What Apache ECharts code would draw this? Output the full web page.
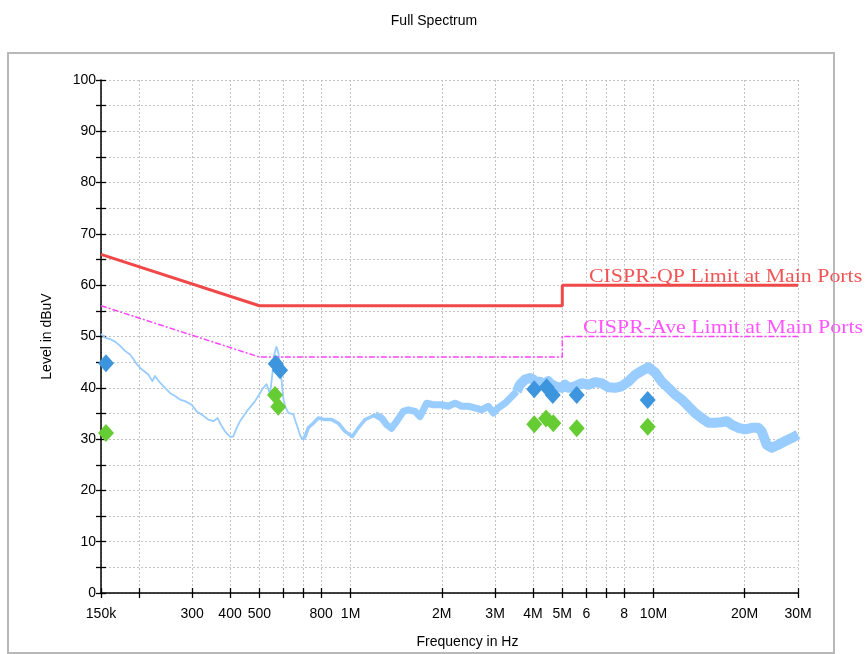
<!DOCTYPE html>
<html><head><meta charset="utf-8">
<script src="https://cdn.jsdelivr.net/npm/echarts@6/dist/echarts.min.js"></script>
<style>html,body{margin:0;padding:0;background:#fff}#c{width:868px;height:654px}</style>
</head><body><div id="c"></div>
<script>
// Spectrum trace (frequency in kHz, level in dBuV)
const traceFreqKHz = [150,154.6,160.6,166.9,173.3,180,187,191.8,196.8,204.4,214.9,221.6,226.1,234.9,244,253.4,263.2,273.4,284,298.9,310.4,322.5,339,352.2,364.1,373.4,384.9,399.8,410,420.8,431.5,454.1,483.8,502.5,515.2,528.7,542.1,551.7,560.1,568.7,577.4,586.3,599.8,607.6,623,647.1,664.1,681,693,707.3,725.3,753.4,782.6,823.5,866.5,911.1,958.7,1013.5,1060.8,1116.2,1174.5,1204.3,1267.2,1316.2,1367.1,1420,1493.2,1551,1632,1695.2,1783.8,1875.5,1999.7,2102.6,2212.4,2327.9,2447.7,2575.5,2710.1,2849.6,2959.8,3074.6,3235.2,3404.3,3536,3625.7,3765.9,3911.6,4010.9,4062.9,4220.6,4327.7,4495.1,4553.4,4730.1,4977.5,5103.9,5233.5,5507,5794.5,6092.9,6411.5,6746.6,7093.8,7464.5,7854.6,8258.7,8690.3,9144.3,9615,10117,10646,11193,11778,12394,13032,13713,14429,15172,15965,16799,17450,18126,19059,20055,21102,22188,22768,23649,24564,25829,27177,28597,30000];
const traceLevel = [50.5,49.8,49.5,49.0,48.2,47.2,46.5,45.6,44.6,43.6,42.6,41.3,42.3,41.0,40.0,39.0,38.4,37.7,37.4,36.7,35.4,34.8,33.8,33.5,34.1,32.8,31.5,30.5,30.5,32.2,33.5,35.4,37.4,39.0,40.0,40.7,38.7,42.6,46.5,48.0,46.9,43.9,38.0,36.4,35.1,34.8,32.8,30.8,29.9,30.5,32.2,33.1,34.1,33.8,33.8,33.1,31.5,30.5,32.2,33.8,34.4,34.8,34.1,32.8,32.1,33.5,35.4,35.7,35.4,34.4,37.0,36.7,36.7,36.4,37.0,36.4,36.4,36.1,35.7,36.4,35.1,36.1,37.0,38.3,39.3,40.6,41.6,41.9,41.6,41.2,41.2,40.6,41.3,40.9,40.3,40.0,40.6,40.0,40.3,40.9,40.6,41.1,40.9,40.1,40.0,40.3,41.2,42.5,43.3,44.0,43.0,41.2,40.0,38.7,37.7,36.4,35.1,34.1,33.2,33.2,33.3,33.5,32.8,32.2,31.9,32.2,32.2,31.5,28.9,28.3,28.9,29.6,30.2,30.9];

// Final measurement results
const qpFreqKHz = [155.8, 566, 585, 4040, 4440, 4650, 5580, 9570];
const qpLevel   = [44.8, 44.7, 43.4, 39.7, 40.1, 38.6, 38.6, 37.6];
const avFreqKHz = [155.8, 563, 577, 4040, 4420, 4670, 5580, 9570];
const avLevel   = [31.2, 38.6, 36.3, 32.9, 34.0, 33.1, 32.1, 32.4];

// Limit lines
const limitQPFreqKHz = [150, 500, 5000, 5000, 30000];
const limitQPLevel   = [66, 56, 56, 60, 60];
const limitAVFreqKHz = [150, 500, 5000, 5000, 30000];
const limitAVLevel   = [56, 46, 46, 50, 50];
const limitQPName = 'CISPR-QP Limit at Main Ports';
const limitAVName = 'CISPR-Ave Limit at Main Ports';

// Axis ticks
const xTickValues = [150,200,300,400,500,600,700,800,1000,2000,3000,4000,5000,6000,7000,8000,10000,20000,30000];
const xLabelValues = [150,300,400,500,800,1000,2000,3000,4000,5000,6000,8000,10000,20000,30000];
const xLabelTexts  = ['150k','300','400','500','800','1M','2M','3M','4M','5M','6','8','10M','20M','30M'];

const pairs = (xs, ys) => xs.map((x, i) => [x, ys[i]]);
const tracePairs = pairs(traceFreqKHz, traceLevel);
const seg = (lo, hi) => tracePairs.filter(p => p[0] >= lo && p[0] <= hi);

const chart = echarts.init(document.getElementById('c'), null, {renderer: 'canvas'});
const FONT = 'Liberation Sans, Arial, sans-serif';
const gridLine = {show: true, lineStyle: {color: '#c4c4c4', width: 1, type: [2, 2]}};

const traceColor = '#99ccff';
const traceSeries = (data, w) => ({
  type: 'line', data, showSymbol: false, symbol: 'none', z: 2,
  lineStyle: {color: traceColor, width: w, join: 'round'}, silent: true
});

chart.setOption({
  animation: false,
  backgroundColor: '#fff',
  title: {text: 'Full Spectrum', left: 'center', top: 9,
    textStyle: {fontSize: 14, fontWeight: 'normal', color: '#000', fontFamily: FONT}},
  grid: {left: 101, right: 70, top: 80, bottom: 60, containLabel: false},
  xAxis: [{
    type: 'log', logBase: 10, min: 150, max: 30000, position: 'bottom',
    name: 'Frequency in Hz', nameLocation: 'middle', nameGap: 42,
    nameTextStyle: {fontSize: 14, color: '#000', fontFamily: FONT, padding: [0, 0, 0, 36]},
    axisLine: {lineStyle: {color: '#000', width: 1.5}},
    axisTick: {show: true, length: 5, customValues: xTickValues, lineStyle: {color: '#000', width: 1.3}},
    axisLabel: {customValues: xLabelValues, color: '#000', fontSize: 14, fontFamily: FONT, margin: 14, hideOverlap: false,
      formatter: v => { const i = xLabelValues.findIndex(t => Math.abs(t - v) / t < 1e-3); return i >= 0 ? xLabelTexts[i] : ''; }},
    splitLine: gridLine,
    minorTick: {show: false}, minorSplitLine: {show: false}
  }, {
    type: 'log', logBase: 10, min: 150, max: 30000, position: 'bottom',
    axisLine: {show: false},
    axisTick: {show: true, inside: true, length: 5, customValues: xTickValues, lineStyle: {color: '#000', width: 1.3}},
    axisLabel: {show: false}, splitLine: {show: false}
  }],
  yAxis: [{
    type: 'value', min: 0, max: 100, interval: 5, position: 'left',
    name: 'Level in dBuV', nameLocation: 'middle', nameGap: 47,
    nameTextStyle: {fontSize: 14, color: '#000', fontFamily: FONT},
    axisLine: {show: true, lineStyle: {color: '#000', width: 1.5}},
    axisTick: {show: true, length: 5, lineStyle: {color: '#000', width: 1.3}},
    axisLabel: {color: '#000', fontSize: 14, fontFamily: FONT, margin: 5,
      formatter: v => (v % 10 === 0 ? String(v) : '')},
    splitLine: gridLine
  }, {
    type: 'value', min: 0, max: 100, interval: 5, position: 'left',
    axisLine: {show: false},
    axisTick: {show: true, inside: true, length: 5, lineStyle: {color: '#000', width: 1.3}},
    axisLabel: {show: false}, splitLine: {show: false}
  }],
  series: [
    {type: 'line', name: limitAVName, data: pairs(limitAVFreqKHz, limitAVLevel), showSymbol: false, symbol: 'none', z: 3,
      lineStyle: {color: '#ff44ff', width: 1.5, type: [6, 2, 2, 2]}},
    {type: 'line', name: limitQPName, data: pairs(limitQPFreqKHz, limitQPLevel), showSymbol: false, symbol: 'none', z: 3,
      lineStyle: {color: '#f04848', width: 3}},
    traceSeries(seg(150, 700), 1.8),
    traceSeries(seg(690, 1210), 3.5),
    traceSeries(seg(1200, 3540), 7),
    traceSeries(seg(3530, 30000), 10),
    {type: 'scatter', name: 'QP', data: pairs(qpFreqKHz, qpLevel), symbol: 'diamond', symbolSize: [16, 18], z: 5,
      itemStyle: {color: '#3d95dd', opacity: 1}},
    {type: 'scatter', name: 'AV', data: pairs(avFreqKHz, avLevel), symbol: 'diamond', symbolSize: [16, 18], z: 5,
      itemStyle: {color: '#66cc33', opacity: 1}}
  ],
  graphic: [
    {type: 'rect', z: -10, silent: true, shape: {x: 8, y: 53, width: 826, height: 600},
      style: {fill: 'none', stroke: '#b8b8b8', lineWidth: 2}},
    {type: 'text', x: 589, y: 277, scaleX: 1.15, z: 10, silent: true,
      style: {text: limitQPName, font: '19px "Liberation Serif", "Times New Roman", serif', fill: '#f05555', textVerticalAlign: 'middle', verticalAlign: 'middle'}},
    {type: 'text', x: 583, y: 328, scaleX: 1.15, z: 10, silent: true,
      style: {text: limitAVName, font: '19px "Liberation Serif", "Times New Roman", serif', fill: '#ff55ff', textVerticalAlign: 'middle', verticalAlign: 'middle'}}
  ]
});
</script>
</body></html>
